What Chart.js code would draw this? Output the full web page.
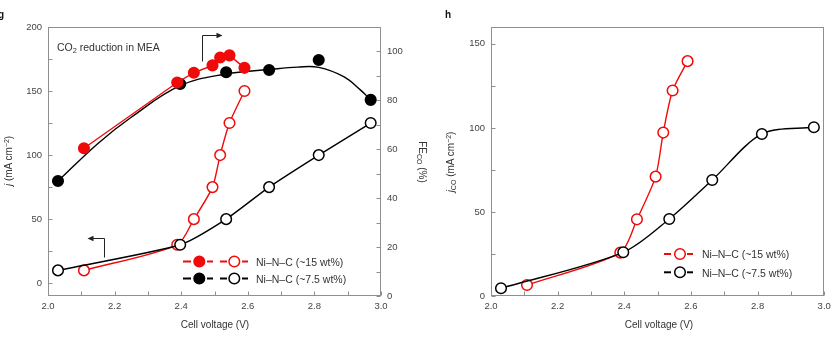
<!DOCTYPE html>
<html><head><meta charset="utf-8">
<script src="https://cdn.jsdelivr.net/npm/chart.js@4.4.0/dist/chart.umd.min.js"></script>
<style>
html,body{margin:0;padding:0;background:#fff}
body{width:831px;height:357px;overflow:hidden;position:relative;font-family:"Liberation Sans",Arial,sans-serif;color:#333}
canvas{position:absolute;top:0}
#cg{left:0}
#ch{left:415px}
.t{position:absolute;white-space:nowrap;font-size:10px;line-height:12px;color:#333}
.c{transform:translate(-50%,-50%)}
.rl{transform:translate(-50%,-50%) rotate(-90deg)}
.rr{transform:translate(-50%,-50%) rotate(90deg)}
.sb{font-size:0.7em;position:relative;top:0.3em}
.sp{font-size:0.7em;position:relative;top:-0.45em}
.pl{font-weight:bold;font-size:10px;line-height:10px;color:#111}
.lg{font-size:10.5px}
svg{position:absolute;left:0;top:0}
</style>
</head><body>
<canvas id="cg" width="415" height="357"></canvas>
<canvas id="ch" width="416" height="357"></canvas>

<svg width="831" height="357">
  <!-- arrows -->
  <path d="M202.5 61.5 V35.5 H218" stroke="#222" stroke-width="1" fill="none"/>
  <path d="M222.5 35.5 L216.5 32.8 L216.5 38.2 Z" fill="#222"/>
  <path d="M104.5 257.5 V238.5 H92" stroke="#222" stroke-width="1" fill="none"/>
  <path d="M87.5 238.5 L93.5 235.8 L93.5 241.2 Z" fill="#222"/>
  <!-- legend g -->
  <g stroke-width="2">
    <line x1="183" y1="261.5" x2="191" y2="261.5" stroke="#f00a0a"/>
    <line x1="207" y1="261.5" x2="213" y2="261.5" stroke="#f00a0a"/>
    <circle cx="199.3" cy="261.5" r="5.3" fill="#f00a0a" stroke="#f00a0a" stroke-width="1.5"/>
    <line x1="220" y1="261.5" x2="227" y2="261.5" stroke="#f00a0a"/>
    <line x1="242" y1="261.5" x2="248" y2="261.5" stroke="#f00a0a"/>
    <circle cx="234.3" cy="261.5" r="5.3" fill="#fff" stroke="#f00a0a" stroke-width="1.5"/>
    <line x1="183" y1="278.5" x2="191" y2="278.5" stroke="#000"/>
    <line x1="207" y1="278.5" x2="213" y2="278.5" stroke="#000"/>
    <circle cx="199.3" cy="278.5" r="5.3" fill="#000" stroke="#000" stroke-width="1.5"/>
    <line x1="220" y1="278.5" x2="227" y2="278.5" stroke="#000"/>
    <line x1="242" y1="278.5" x2="248" y2="278.5" stroke="#000"/>
    <circle cx="234.3" cy="278.5" r="5.3" fill="#fff" stroke="#000" stroke-width="1.5"/>
  </g>
  <!-- legend h -->
  <g stroke-width="2">
    <line x1="664" y1="254" x2="671" y2="254" stroke="#f00a0a"/>
    <line x1="687" y1="254" x2="693" y2="254" stroke="#f00a0a"/>
    <circle cx="680" cy="254" r="5.3" fill="#fff" stroke="#f00a0a" stroke-width="1.5"/>
    <line x1="664" y1="272.3" x2="671" y2="272.3" stroke="#000"/>
    <line x1="687" y1="272.3" x2="693" y2="272.3" stroke="#000"/>
    <circle cx="680" cy="272.3" r="5.3" fill="#fff" stroke="#000" stroke-width="1.5"/>
  </g>
</svg>

<div class="t pl" style="left:-2px;top:9.5px">g</div>
<div class="t pl" style="left:445px;top:9.8px">h</div>
<div class="t lg" style="left:57px;top:41px">CO<span class="sb">2</span> reduction in MEA</div>
<div class="t c" style="left:215px;top:325px">Cell voltage (V)</div>
<div class="t c" style="left:659px;top:325px">Cell voltage (V)</div>
<div class="t rl" style="left:9px;top:161px"><i>j</i> (mA cm<span class="sp">−2</span>)</div>
<div class="t rr" style="left:421px;top:162px">FE<span class="sb">CO</span> (%)</div>
<div class="t rl" style="left:451px;top:162px"><i>j</i><span class="sb">CO</span> (mA cm<span class="sp">−2</span>)</div>
<div class="t lg" style="left:256px;top:255.7px">Ni–N–C (~15 wt%)</div>
<div class="t lg" style="left:256px;top:272.7px">Ni–N–C (~7.5 wt%)</div>
<div class="t lg" style="left:702px;top:248.2px">Ni–N–C (~15 wt%)</div>
<div class="t lg" style="left:702px;top:266.5px">Ni–N–C (~7.5 wt%)</div>

<script>
// ---------- data ----------
const redVoltage   = [2.108, 2.388, 2.438, 2.494, 2.517, 2.545, 2.590];   // Ni–N–C (~15 wt%)
const blackVoltage = [2.030, 2.397, 2.535, 2.664, 2.813, 2.969];          // Ni–N–C (~7.5 wt%)

// panel g: total current density j (left axis)
const redJ   = [10, 30, 50, 75, 100, 125, 150];
const blackJ = [10, 30, 50, 75, 100, 125];
// panel g: Faradaic efficiency FE_CO (right axis)
const redFE   = [60.4, 87.3, 91.3, 94.3, 97.5, 98.4, 93.3];
const blackFE = [47.0, 86.7, 91.5, 92.4, 96.5, 80.2];
// panel g: smooth trend curve through the ~7.5 wt% FE points
const fitVoltage = [2.030, 2.150, 2.250, 2.397, 2.535, 2.664, 2.750, 2.813, 2.888, 2.938, 2.969];
const fitFE      = [47.0, 62.4, 73.1, 86.0, 90.8, 92.6, 93.6, 93.5, 89.7, 84.3, 80.2];

// panel h: partial current density j_CO
const redJco   = [6.5, 25.8, 45.6, 71.0, 97.2, 122.2, 139.7];
const blackJco = [4.6, 26.0, 45.8, 69.0, 96.4, 100.4];

// ticks
const xMajor = [2.0, 2.2, 2.4, 2.6, 2.8, 3.0];
const xMinor = [2.1, 2.3, 2.5, 2.7, 2.9];
const jMajor = [0, 50, 100, 150, 200];
const jMinor = [25, 75, 125, 175];
const feMajor = [0, 20, 40, 60, 80, 100];
const feMinor = [10, 30, 50, 70, 90];
const jcoMajor = [0, 50, 100, 150];
const jcoMinor = [25, 75, 125];

// ---------- helpers ----------
const RED = '#f00a0a', BLACK = '#000000', AXIS = '#8f8f8f';
const zip = (xs, ys) => xs.map((x, i) => ({x: x, y: ys[i]}));
const allTicks = (a, b) => a.concat(b).sort((p, q) => p - q);
const isIn = (arr, v) => arr.some(m => Math.abs(m - v) < 1e-6);

Chart.defaults.font.family = '"Liberation Sans", Arial, sans-serif';
Chart.defaults.font.size = 9.5;
Chart.defaults.color = '#444';

const boxTicks = {
  id: 'boxTicks',
  beforeDatasetsDraw(chart) {
    const ctx = chart.ctx, a = chart.chartArea;
    ctx.save();
    ctx.strokeStyle = AXIS;
    ctx.lineWidth = 1;
    const L = Math.round(a.left) + 0.5, R = Math.round(a.right) - 0.5;
    const T = Math.round(a.top) + 0.5, B = Math.round(a.bottom) - 0.5;
    ctx.strokeRect(L, T, R - L, B - T);
    ctx.beginPath();
    Object.values(chart.scales).forEach(s => {
      s.ticks.forEach(t => {
        const p = Math.round(s.getPixelForValue(t.value)) + 0.5;
        if (s.axis === 'x') { ctx.moveTo(p, B); ctx.lineTo(p, B - 4); }
        else if (s.position === 'left') { ctx.moveTo(L, p); ctx.lineTo(L + 4, p); }
        else { ctx.moveTo(R, p); ctx.lineTo(R - 4, p); }
      });
    });
    ctx.stroke();
    ctx.restore();
  }
};

function axis(opts) {
  const {position, min, max, major, minor, size, fmt, pad} = opts;
  const horizontal = position === 'bottom';
  return {
    type: 'linear', position, min, max,
    grid: {display: false, drawTicks: false},
    border: {display: false},
    ticks: {
      padding: pad, autoSkip: false, maxRotation: 0, color: '#444',
      callback: v => isIn(major, v) ? fmt(v) : ''
    },
    afterBuildTicks: s => { s.ticks = allTicks(major, minor).map(v => ({value: v})); },
    afterFit: s => {
      if (horizontal) s.height = size; else s.width = size;
      s.paddingLeft = 0; s.paddingRight = 0; s.paddingTop = 0; s.paddingBottom = 0;
    }
  };
}

const common = {
  responsive: false, animation: false, devicePixelRatio: 1,
  plugins: {legend: {display: false}, tooltip: {enabled: false}},
  events: []
};

const openPt = (c) => ({pointBackgroundColor: '#fff', pointBorderColor: c, borderColor: c, backgroundColor: '#fff'});
const fillPt = (c) => ({pointBackgroundColor: c, pointBorderColor: c, borderColor: c, backgroundColor: c});
const ptStyle = {pointRadius: 5.3, pointBorderWidth: 1.5, borderWidth: 1.4, pointHoverRadius: 5.3};

new Chart(document.getElementById('cg'), {
  type: 'scatter',
  data: {datasets: [
    Object.assign({label: 'FE Ni–N–C (~15 wt%)', data: zip(redVoltage, redFE), yAxisID: 'yFE',
      showLine: true, tension: 0, order: 0}, fillPt(RED), ptStyle),
    Object.assign({label: 'FE Ni–N–C (~7.5 wt%)', data: zip(blackVoltage, blackFE), yAxisID: 'yFE',
      showLine: false, order: 1}, fillPt(BLACK), ptStyle),
    Object.assign({label: 'j Ni–N–C (~7.5 wt%)', data: zip(blackVoltage, blackJ), yAxisID: 'yJ',
      showLine: true, tension: 0.2, order: 2}, openPt(BLACK), ptStyle),
    Object.assign({label: 'j Ni–N–C (~15 wt%)', data: zip(redVoltage, redJ), yAxisID: 'yJ',
      showLine: true, tension: 0.25, order: 3}, openPt(RED), ptStyle),
    {label: 'FE trend (~7.5 wt%)', data: zip(fitVoltage, fitFE), yAxisID: 'yFE', showLine: true,
      tension: 0.4, pointRadius: 0, borderColor: BLACK, borderWidth: 1.4, order: 4}
  ]},
  options: Object.assign({}, common, {
    layout: {padding: {top: 27, left: 0, right: 0, bottom: 0}},
    scales: {
      x: axis({position: 'bottom', min: 2.0, max: 3.0, major: xMajor, minor: xMinor, size: 61, pad: 5, fmt: v => v.toFixed(1)}),
      yJ: axis({position: 'left', min: -10, max: 200, major: jMajor, minor: jMinor, size: 48, pad: 6, fmt: v => String(Math.round(v))}),
      yFE: axis({position: 'right', min: 0, max: 110, major: feMajor, minor: feMinor, size: 34, pad: 6, fmt: v => String(Math.round(v))})
    }
  }),
  plugins: [boxTicks]
});

new Chart(document.getElementById('ch'), {
  type: 'scatter',
  data: {datasets: [
    Object.assign({label: 'Ni–N–C (~7.5 wt%)', data: zip(blackVoltage, blackJco), yAxisID: 'y',
      showLine: true, tension: 0.3, order: 0}, openPt(BLACK), ptStyle),
    Object.assign({label: 'Ni–N–C (~15 wt%)', data: zip(redVoltage, redJco), yAxisID: 'y',
      showLine: true, tension: 0.25, order: 1}, openPt(RED), ptStyle)
  ]},
  options: Object.assign({}, common, {
    layout: {padding: {top: 27, left: 0, right: 5, bottom: 0}},
    scales: {
      x: axis({position: 'bottom', min: 2.0, max: 3.0, major: xMajor, minor: xMinor, size: 61, pad: 5, fmt: v => v.toFixed(1)}),
      y: axis({position: 'left', min: 0, max: 160, major: jcoMajor, minor: jcoMinor, size: 76, pad: 6, fmt: v => String(Math.round(v))})
    }
  }),
  plugins: [boxTicks]
});
</script>
</body></html>
